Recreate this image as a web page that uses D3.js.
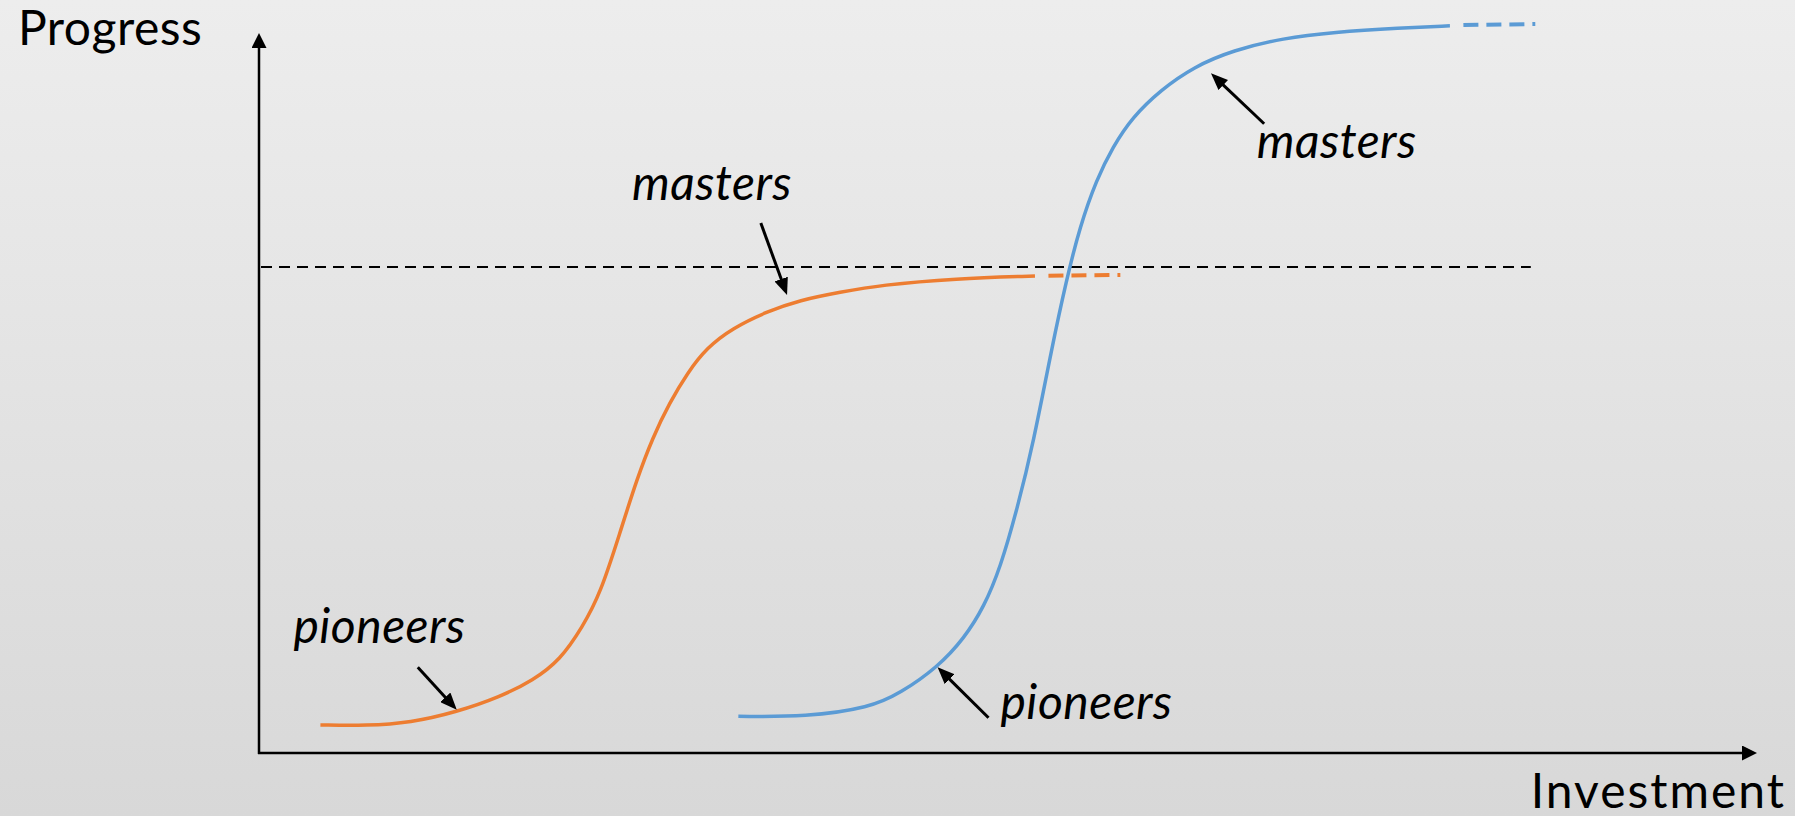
<!DOCTYPE html>
<html>
<head>
<meta charset="utf-8">
<script src="https://cdn.jsdelivr.net/npm/d3@7"></script>
<style>
  body { margin: 0; }
  svg { display: block; }
  text { font-family: Lato, "Open Sans", sans-serif; fill: #000; }
</style>
</head>
<body>
<svg id="chart"></svg>
<script>
// S-curve points: [investment, progress]
const pioneersFirst = [
  [4.1, 3.9], [7.2, 3.8], [10.1, 4.2], [13.2, 5.7], [16.1, 7.8], [18.3, 10.1],
  [20.1, 12.9], [21.6, 17.5], [22.8, 22.2], [24.1, 30.6], [25.2, 37.9], [26.3, 43.9],
  [27.4, 48.6], [28.6, 52.8], [29.9, 56.3], [31.6, 59.0], [33.9, 61.3], [36.1, 62.9],
  [38.8, 64.0], [41.5, 65.0], [46.5, 65.9], [51.8, 66.25]
];
const firstTail = [[52.7, 66.3], [57.5, 66.4]];

const pioneersSecond = [
  [32.0, 5.1], [36.5, 5.0], [40.8, 6.3], [42.8, 8.3], [45.3, 11.9], [47.1, 16.0],
  [48.4, 20.3], [49.5, 25.8], [50.6, 33.8], [51.7, 43.1], [52.9, 56.0], [53.9, 65.7],
  [54.8, 73.1], [55.9, 79.6], [57.0, 84.2], [58.3, 88.3], [60.2, 92.1], [62.4, 95.3],
  [65.0, 97.6], [68.4, 99.3], [71.7, 100.1], [76.2, 100.7], [79.5, 101.0]
];
const secondTail = [[80.4, 101.1], [85.2, 101.25]];

const thresholdLevel = 67.5;
const thresholdEnd = 84.9;

// label text, text anchor point, arrow start, arrow tip
const labels = [
  { text: 'pioneers', at: [2.3, 15.3], from: [10.6, 11.9], to: [13.2, 6.0] },
  { text: 'masters', at: [24.9, 76.8], from: [33.5, 73.6], to: [35.25, 63.6] },
  { text: 'pioneers', at: [49.5, 4.7], from: [48.7, 4.9], to: [45.3, 11.9] },
  { text: 'masters', at: [66.6, 82.6], from: [67.1, 87.4], to: [63.55, 94.4] }
];

const W = 1795, H = 816;
const svg = d3.select('#chart').attr('width', W).attr('height', H);

// background gradient
const defs = svg.append('defs');
const grad = defs.append('linearGradient')
  .attr('id', 'bg').attr('x1', 0).attr('y1', 0).attr('x2', 0).attr('y2', 1);
grad.append('stop').attr('offset', '0%').attr('stop-color', '#ededed');
grad.append('stop').attr('offset', '100%').attr('stop-color', '#d8d8d8');
svg.append('rect').attr('width', W).attr('height', H).attr('fill', 'url(#bg)');

function marker(id, len, wid) {
  defs.append('marker')
    .attr('id', id)
    .attr('markerUnits', 'userSpaceOnUse')
    .attr('viewBox', `0 0 ${len} ${wid}`)
    .attr('markerWidth', len).attr('markerHeight', wid)
    .attr('refX', 1).attr('refY', wid / 2)
    .attr('orient', 'auto')
    .append('path')
    .attr('d', `M0,0L${len},${wid / 2}L0,${wid}Z`)
    .attr('fill', '#000');
}
marker('axisHead', 15, 15);
marker('noteHead', 17, 14);

const x = d3.scaleLinear().domain([0, 100]).range([259, 1757]);
const y = d3.scaleLinear().domain([0, 100]).range([753, 33]);

// shorten a segment so the marker tip lands on the end point
function shorten(p0, p1, by) {
  const dx = p1[0] - p0[0], dy = p1[1] - p0[1];
  const l = Math.hypot(dx, dy);
  return [p1[0] - dx / l * by, p1[1] - dy / l * by];
}

// axes
const origin = [x(0), y(0)];
const yEnd = shorten(origin, [x(0), y(100)], 14);
const xEnd = shorten(origin, [x(100), y(0)], 14);
svg.append('line')
  .attr('x1', origin[0]).attr('y1', origin[1] + 1)
  .attr('x2', yEnd[0]).attr('y2', yEnd[1])
  .attr('stroke', '#000').attr('stroke-width', 2.5)
  .attr('marker-end', 'url(#axisHead)');
svg.append('line')
  .attr('x1', origin[0] - 1).attr('y1', origin[1])
  .attr('x2', xEnd[0]).attr('y2', xEnd[1])
  .attr('stroke', '#000').attr('stroke-width', 2.5)
  .attr('marker-end', 'url(#axisHead)');

svg.append('text')
  .attr('x', 18).attr('y', 45)
  .style('font-size', '48px')
  .style('letter-spacing', '0.5px')
  .text('Progress');
svg.append('text')
  .attr('x', 1786).attr('y', 808)
  .attr('text-anchor', 'end')
  .style('font-size', '48px')
  .style('letter-spacing', '2px')
  .text('Investment');

// threshold
svg.append('line')
  .attr('x1', x(0) + 2).attr('x2', x(thresholdEnd))
  .attr('y1', y(thresholdLevel)).attr('y2', y(thresholdLevel))
  .attr('stroke', '#000').attr('stroke-width', 2)
  .attr('stroke-dasharray', '11,7');

const line = d3.line()
  .x(d => x(d[0]))
  .y(d => y(d[1]))
  .curve(d3.curveBasis);

const curves = [
  { pts: pioneersFirst, tail: firstTail, color: '#ED7D31' },
  { pts: pioneersSecond, tail: secondTail, color: '#5B9BD5' }
];

curves.forEach(c => {
  svg.append('path')
    .attr('d', line(c.pts))
    .attr('fill', 'none')
    .attr('stroke', c.color)
    .attr('stroke-width', 3.5);
  svg.append('path')
    .attr('d', line(c.tail))
    .attr('fill', 'none')
    .attr('stroke', c.color)
    .attr('stroke-width', 4)
    .attr('stroke-dasharray', '15,8');
});

// annotations
labels.forEach(l => {
  const p0 = [x(l.from[0]), y(l.from[1])];
  const p1 = [x(l.to[0]), y(l.to[1])];
  const e = shorten(p0, p1, 16);
  svg.append('line')
    .attr('x1', p0[0]).attr('y1', p0[1])
    .attr('x2', e[0]).attr('y2', e[1])
    .attr('stroke', '#000').attr('stroke-width', 3)
    .attr('marker-end', 'url(#noteHead)');
  svg.append('text')
    .attr('x', x(l.at[0])).attr('y', y(l.at[1]))
    .style('font-size', '48px')
    .style('font-style', 'italic')
    .style('letter-spacing', '0.5px')
    .text(l.text);
});
</script>
</body>
</html>
